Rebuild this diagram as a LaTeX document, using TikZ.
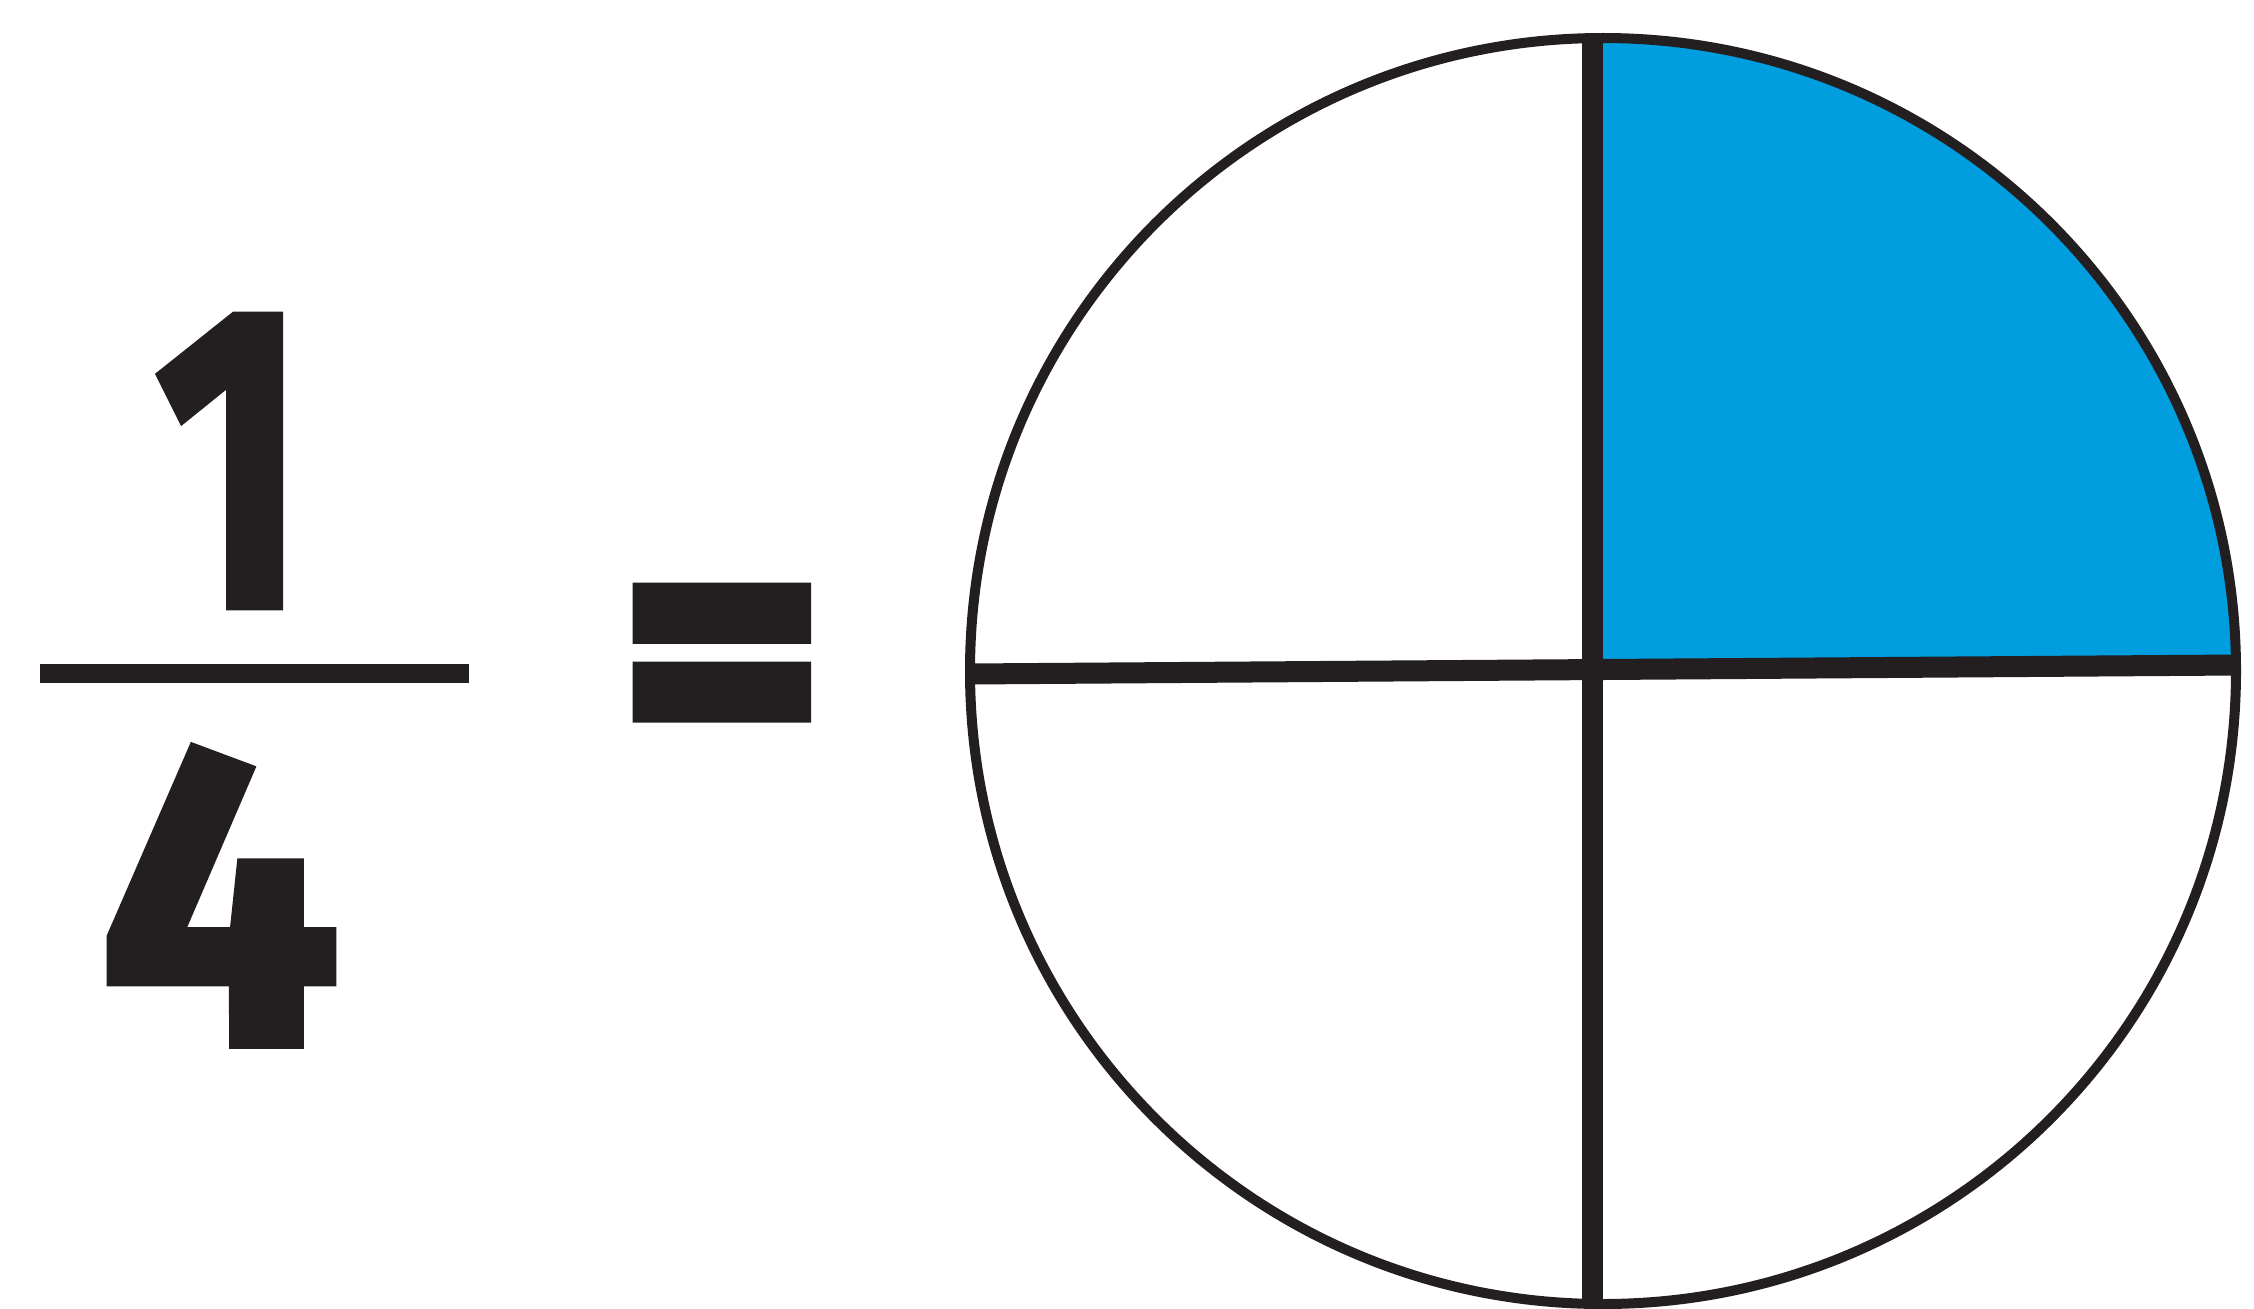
\documentclass[tikz,border=0pt]{standalone}
\usepackage{fontspec}
\newfontfamily\digitfont{Fira Sans}[FakeBold=2]
\newfontfamily\eqfont{Fira Sans}[FakeBold=4]
\definecolor{ink}{RGB}{35,31,32}
\definecolor{quarter}{RGB}{0,157,223}
\tikzset{
  digit/.style={inner sep=0pt, text=ink, font=\digitfont\bfseries\fontsize{122}{122}\selectfont},
  eqsign/.style={inner sep=0pt, text=ink, font=\eqfont\bfseries\fontsize{122}{122}\selectfont},
  rim/.style={draw=ink, line width=0.1cm},
  divider/.style={draw=ink, line width=0.21cm},
  fracbar/.style={draw=ink, line width=0.19cm}
}
\begin{document}
\begin{tikzpicture}[x=0.01cm,y=-0.01cm]
\useasboundingbox (0,0) rectangle (2254,1309);
% fraction
\node[digit] (one) at (231,461) {\scalebox{0.76}[1]{1}};
\node[digit] (four) at (220,896) {4};
\coordinate (barL) at (40,673.5);
\coordinate (barR) at (469,673.5);
\draw[fracbar] (barL) -- (barR);
\node[eqsign] (eq) at (722,684) {\scalebox{0.9}[0.88]{=}};
% circle
\coordinate (c) at (1603,671);
\coordinate (vt) at (1592,34);
\coordinate (vb) at (1592,1308);
\coordinate (hl) at (968,674);
\coordinate (hr) at (2238,665);
\begin{scope}
  \clip (c) circle (633);
  \fill[quarter] (1592,668) rectangle (2254,0);
\end{scope}
\draw[rim] (c) circle (633);
\draw[divider] (vt) -- (vb);
\draw[divider] (hl) -- (hr);
\end{tikzpicture}
\end{document}
